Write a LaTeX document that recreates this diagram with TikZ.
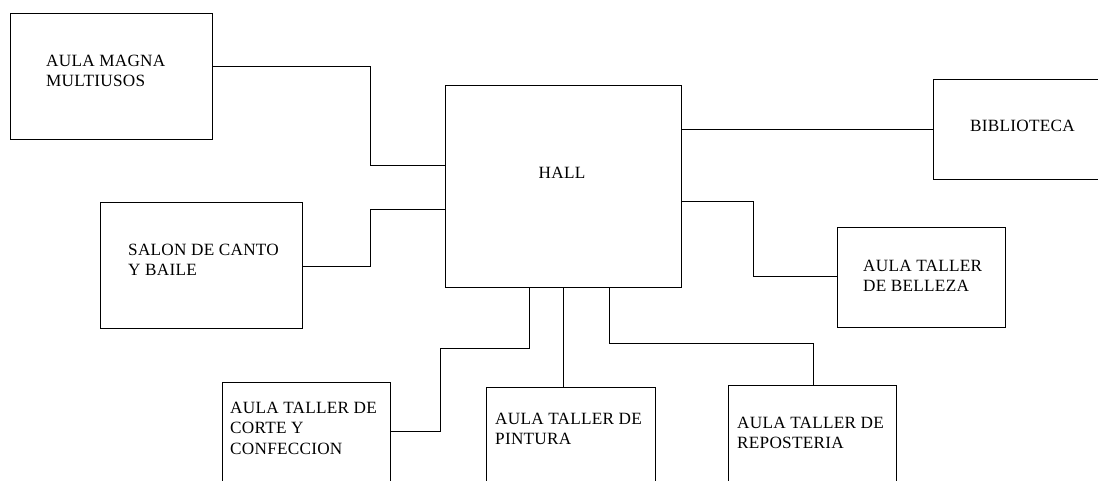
\documentclass[tikz,border=0pt]{standalone}
\usepackage{fontspec}
\setmainfont{Liberation Serif}[LetterSpace=1.5]
\begin{document}
\begin{tikzpicture}[x=1pt,y=-1pt,
  box/.style={draw, line width=0.9pt, rectangle, inner sep=0pt},
  lbl/.style={inner sep=0pt, anchor=west, align=left, font=\fontsize{17.2}{20.5}\selectfont},
  conn/.style={draw, line width=0.9pt}]
\useasboundingbox (0,0) rectangle (1098,481);
\clip (0,0) rectangle (1098,481);
% boxes
\node[box, minimum width=202pt, minimum height=126pt] (magna) at (111,76) {};
\node[box, minimum width=236pt, minimum height=202pt] (hall) at (563,186) {};
\node[box, minimum width=202pt, minimum height=126pt] (salon) at (201,265) {};
\node[box, minimum width=170pt, minimum height=100pt] (biblio) at (1018,129) {};
\node[box, minimum width=168pt, minimum height=100pt] (belleza) at (921,277) {};
\node[box, minimum width=168pt, minimum height=118pt] (corte) at (306,441) {};
\node[box, minimum width=169pt, minimum height=113pt] (pintura) at (570.5,443.5) {};
\node[box, minimum width=168pt, minimum height=115pt] (reposteria) at (812,442.5) {};
% labels
\node[lbl] (tmagna) at (46,71) {AULA MAGNA\\MULTIUSOS};
\node[lbl, anchor=center] (thall) at (562,173) {HALL};
\node[lbl] (tsalon) at (128,260) {SALON DE CANTO\\Y BAILE};
\node[lbl] (tbiblio) at (970,126) {BIBLIOTECA};
\node[lbl] (tbelleza) at (863,276) {AULA TALLER\\DE BELLEZA};
\node[lbl] (tcorte) at (230,428) {AULA TALLER DE\\CORTE Y\\CONFECCION};
\node[lbl] (tpintura) at (495,429) {AULA TALLER DE\\PINTURA};
\node[lbl] (treposteria) at (737,433) {AULA TALLER DE\\REPOSTERIA};
% bend coordinates
\coordinate (m1) at (370,66);
\coordinate (m2) at (370,165);
\coordinate (s1) at (370,266);
\coordinate (s2) at (370,209);
\coordinate (b0) at (681,129);
\coordinate (e1) at (753,201);
\coordinate (e2) at (753,276);
\coordinate (c1) at (529,348);
\coordinate (c2) at (440,348);
\coordinate (c3) at (440,431);
\coordinate (p0) at (563,300);
\coordinate (r1) at (609,343);
\coordinate (r2) at (813,343);
% connectors
\draw[conn] (magna.east |- m1) -- (m1) -- (m2) -- (hall.west |- m2);
\draw[conn] (salon.east |- s1) -- (s1) -- (s2) -- (hall.west |- s2);
\draw[conn] (hall.east |- b0) -- (biblio.west |- b0);
\draw[conn] (hall.east |- e1) -- (e1) -- (e2) -- (belleza.west |- e2);
\draw[conn] (hall.south -| c1) -- (c1) -- (c2) -- (c3) -- (corte.east |- c3);
\draw[conn] (hall.south -| p0) -- (pintura.north -| p0);
\draw[conn] (hall.south -| r1) -- (r1) -- (r2) -- (reposteria.north -| r2);
\end{tikzpicture}
\end{document}
